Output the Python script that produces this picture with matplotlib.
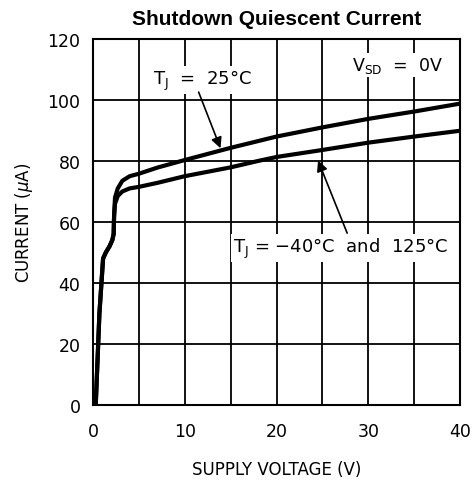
import matplotlib
matplotlib.use("Agg")
import matplotlib.pyplot as plt

# 25 degC curve
v_25 = [0.3, 0.7, 1.1, 1.4, 1.8, 2.1, 2.25, 2.3, 2.4, 2.7, 3.2, 4, 5, 7, 10, 15, 20, 25, 30, 35, 40]
i_25 = [0, 30, 48, 50, 52, 54, 56, 62, 68, 71, 73.5, 75, 75.8, 77.8, 80.3, 84.3, 88, 91, 93.8, 96.2, 98.8]
# -40 degC and 125 degC curve
v_hl = [0.3, 0.7, 1.1, 1.4, 1.8, 2.1, 2.25, 2.3, 2.4, 2.7, 3.2, 4, 5, 7, 10, 15, 18, 20, 25, 30, 35, 40]
i_hl = [0, 30, 48, 50, 52, 54, 56, 62, 66, 68.5, 70, 71, 71.5, 72.8, 75, 77.9, 80, 81.3, 83.6, 86, 88, 89.9]

x_ticks = [0, 10, 20, 30, 40]
y_ticks = [0, 20, 40, 60, 80, 100, 120]

plt.rcParams["font.family"] = ["DejaVu Sans"]
fig = plt.figure(figsize=(4.72, 4.81), dpi=100)
ax = fig.add_axes([0.197, 0.156, 0.778, 0.761])

ax.plot(v_25, i_25, color="black", lw=3.0, solid_capstyle="butt", zorder=3)
ax.plot(v_hl, i_hl, color="black", lw=3.0, solid_capstyle="butt", zorder=3)

ax.set_xlim(0, 40)
ax.set_ylim(0, 120)
ax.set_xticks(x_ticks)
ax.set_xticks(range(0, 41, 5), minor=True)
ax.set_yticks(y_ticks)
ax.grid(True, which="both", color="black", lw=1.3)
ax.tick_params(which="both", length=0, labelsize=12.5)
ax.tick_params(axis="x", pad=12)
ax.tick_params(axis="y", pad=9)
for s in ax.spines.values():
    s.set_linewidth(1.5)

ax.set_xlabel("SUPPLY VOLTAGE (V)", fontsize=12, labelpad=15)
ax.set_ylabel(r"CURRENT ($\mu$A)", fontsize=12, labelpad=9)
ax.set_title("Shutdown Quiescent Current", fontsize=15, fontweight="bold",
             family="Liberation Sans", pad=11)

box = dict(facecolor="white", edgecolor="none", pad=1.5)
ax.text(11.9, 106.5, r"T$_\mathregular{J}$  =  25°C", fontsize=13, ha="center", va="center", bbox=box)
ax.text(33.2, 111.5, r"V$_\mathregular{SD}$  =  0V", fontsize=12.5, ha="center", va="center", bbox=box)
ax.text(27.0, 51.5, r"T$_\mathregular{J}$ = −40°C  and  125°C", fontsize=13, ha="center", va="center", bbox=box)

arr = dict(arrowstyle="-|>", color="black", lw=1.2, mutation_scale=16)
ax.annotate("", xy=(14.0, 83.3), xytext=(11.4, 103.4), arrowprops=arr)
ax.annotate("", xy=(24.4, 81.0), xytext=(27.8, 55.5), arrowprops=arr)

fig.savefig("out.png", dpi=100)
